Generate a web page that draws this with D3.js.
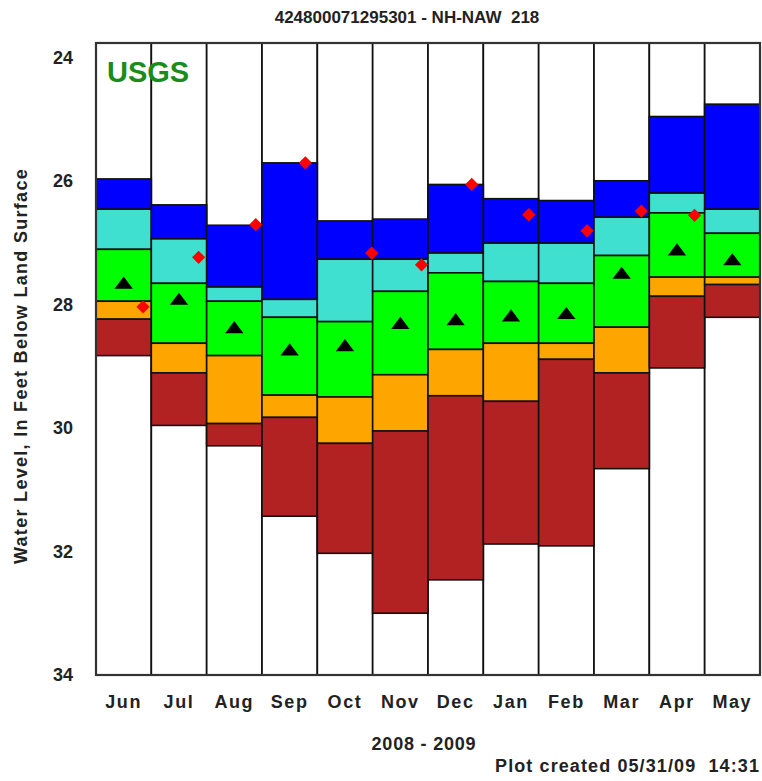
<!DOCTYPE html>
<html><head><meta charset="utf-8">
<script src="https://cdn.jsdelivr.net/npm/d3@7"></script>
<style>body{margin:0;background:#fff}svg{display:block}text{font-family:"Liberation Sans",Arial,sans-serif;font-weight:bold;white-space:pre}</style>
</head><body><svg id="c" width="762" height="781"></svg>
<script>
const months = ["Jun","Jul","Aug","Sep","Oct","Nov","Dec","Jan","Feb","Mar","Apr","May"];
// percentile class boundaries (feet below land surface)
const maxLevel = [25.97,26.39,26.72,25.71,26.65,26.62,26.06,26.29,26.32,26.00,24.96,24.76];
const p90      = [26.46,26.94,27.72,27.92,27.27,27.27,27.17,27.01,27.01,26.59,26.20,26.46];
const p75      = [27.11,27.66,27.95,28.21,28.28,27.79,27.49,27.63,27.66,27.21,26.52,26.85];
const p25      = [27.95,28.63,28.83,29.47,29.50,29.14,28.73,28.63,28.63,28.37,27.56,27.56];
const p10      = [28.24,29.11,29.93,29.83,30.25,30.05,29.48,29.57,28.89,29.11,27.87,27.68];
const minLevel = [28.83,29.96,30.29,31.43,32.03,33.00,32.46,31.88,31.91,30.66,29.03,28.21];
const median   = [27.65,27.91,28.37,28.73,28.66,28.30,28.24,28.18,28.14,27.49,27.11,27.27];
// current measurements: month index, day of month, days in month, level
const obsMonth = [0,1,2,3,4,5,6,7,8,9,10];
const obsDay   = [26,27,28,24,31,27,25,26,25,27,25];
const obsDays  = [30,31,31,30,31,30,31,31,28,31,30];
const obsLevel = [28.04,27.24,26.71,25.71,27.17,27.36,26.06,26.55,26.81,26.49,26.56];
const yTicks = [24,26,28,30,32,34];
const classColors = ["#0000ff","#40e0d0","#00ff00","#ffa500","#b22222"];

const svg = d3.select("#c");
const x = d3.scaleBand().domain(months).range([96,760]).padding(0);
const y = d3.scaleLinear().domain([23.77,34]).range([43,675]);
const bw = x.bandwidth();

// columns background
svg.append("g").selectAll("rect").data(months).join("rect")
  .attr("x", d=>x(d)).attr("y", y(23.77)).attr("width", bw).attr("height", y(34)-y(23.77))
  .attr("fill","#fff").attr("stroke","#111").attr("stroke-width",1.7);

// class bands
const bounds = [maxLevel,p90,p75,p25,p10,minLevel];
const bands = [];
months.forEach((m,i)=>{
  for(let k=0;k<5;k++) bands.push({m, top:bounds[k][i], bot:bounds[k+1][i], c:classColors[k]});
});
svg.append("g").selectAll("rect").data(bands).join("rect")
  .attr("x", d=>x(d.m)).attr("y", d=>y(d.top)).attr("width", bw).attr("height", d=>y(d.bot)-y(d.top))
  .attr("fill", d=>d.c).attr("stroke","#111").attr("stroke-width",1.6);

// frame
svg.append("rect").attr("x",96).attr("y",y(23.77)).attr("width",664).attr("height",y(34)-y(23.77))
  .attr("fill","none").attr("stroke","#333").attr("stroke-width",2.2);

// median triangles
const tri = d3.symbol().type(d3.symbolTriangle).size(110);
svg.append("g").selectAll("path").data(median).join("path")
  .attr("d", tri).attr("fill","#000")
  .attr("transform",(d,i)=>`translate(${x(months[i])+bw/2},${y(d)+2}) scale(1.15,0.88)`);

// current measurements diamonds
const dia = d3.symbol().type(d3.symbolSquare).size(88);
svg.append("g").selectAll("path").data(obsLevel).join("path")
  .attr("d", dia).attr("fill","#ff0000")
  .attr("transform",(d,i)=>`translate(${x(months[obsMonth[i]]) + (obsDay[i]-0.5)/obsDays[i]*bw},${y(d)}) rotate(45)`);

// y axis labels
svg.append("g").selectAll("text").data(yTicks).join("text")
  .attr("x",63).attr("y",d=>y(d)).attr("dy","0.35em").attr("text-anchor","middle")
  .attr("font-size",18).attr("fill","#222").text(d=>d);

// x labels
svg.append("g").selectAll("text").data(months).join("text")
  .attr("x",d=>x(d)+bw/2).attr("y",708).attr("text-anchor","middle")
  .attr("font-size",18).attr("letter-spacing",1.6).attr("fill","#222").text(d=>d);

svg.append("text").attr("x",407).attr("y",23).attr("text-anchor","middle").attr("font-size",17).attr("fill","#222")
  .text("424800071295301 - NH-NAW  218");
svg.append("text").attr("x",424).attr("y",750).attr("text-anchor","middle").attr("font-size",18).attr("letter-spacing",0.8).attr("fill","#222")
  .text("2008 - 2009");
svg.append("text").attr("x",760).attr("y",772).attr("text-anchor","end").attr("font-size",18).attr("letter-spacing",1.1).attr("fill","#222")
  .text("Plot created 05/31/09  14:31");
svg.append("text").attr("transform","translate(27,366) rotate(-90)").attr("text-anchor","middle").attr("font-size",18).attr("letter-spacing",1.3).attr("fill","#222")
  .text("Water Level, In Feet Below Land Surface");
svg.append("text").attr("x",107).attr("y",82).attr("font-size",29).attr("fill","#1a8c1a").text("USGS");
</script></body></html>
